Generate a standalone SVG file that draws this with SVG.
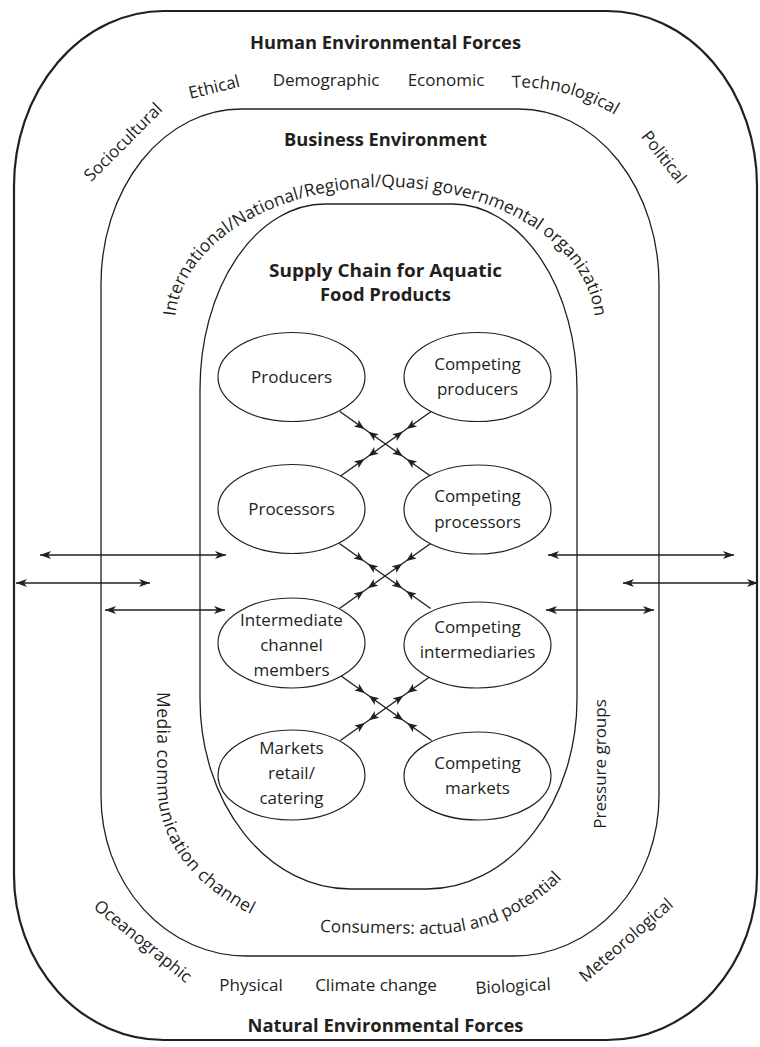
<svg xmlns="http://www.w3.org/2000/svg" width="760" height="1047" viewBox="0 0 760 1047">
<style>
.t{font-family:"Open Sans","Liberation Sans",sans-serif;font-size:17px;fill:#231f20}
.b{font-weight:700;font-size:18px}
.arc{font-size:17.5px}
.frame{fill:none;stroke:#231f20}
.node ellipse{fill:#fff;stroke:#231f20;stroke-width:1.2}
.conn line{fill:none;stroke:#231f20;stroke-width:1.4}
.conn use{fill:#231f20}
</style>
<defs>
<marker id="ah2" viewBox="0 0 11 8" refX="11" refY="4" markerWidth="11" markerHeight="8" markerUnits="userSpaceOnUse" orient="auto-start-reverse"><path d="M0,0 L11,4 L0,8 L3,4 Z" fill="#231f20"/></marker>
<path id="tip" d="M0,0 L-10,-4 L-7.5,0 L-10,4 Z"/>
<path id="p-intl" d="M175,325 A210,138 0 0 1 595,325"/>
<path id="p-tech" d="M512,88 Q570,84 626,122"/>
<path id="p-media" d="M157,688 V780 C157,860 215,905 300,935"/>
<path id="p-cons" d="M318,932 L430,934 A185,185 0 0 0 590,841.5"/>
</defs>
<rect width="760" height="1047" fill="#fff"/>

<g id="frames">
<path id="outer" class="frame" stroke-width="2.2" d="M164,11 H607 A150,175 0 0 1 757,186 V875 A150,165 0 0 1 607,1040 H164 A150,165 0 0 1 14,875 V186 A150,175 0 0 1 164,11 Z"/>
<path id="business" class="frame" stroke-width="1.3" d="M241,109 H519 A140,175 0 0 1 659,284 V796 A145,160 0 0 1 514,956 H246 A145,160 0 0 1 101,796 V284 A140,175 0 0 1 241,109 Z"/>
<path id="supply" class="frame" stroke-width="1.3" d="M325,204 H452 A125,185 0 0 1 577,389 V699 A150,190 0 0 1 427,889 H350 A150,190 0 0 1 200,699 V389 A125,185 0 0 1 325,204 Z"/>
</g>

<g id="labels">
<text class="t b" x="385.5" y="49" text-anchor="middle" textLength="271" lengthAdjust="spacingAndGlyphs">Human Environmental Forces</text>
<text class="t" transform="translate(123,142) rotate(-45)" text-anchor="middle" dy="0.35em">Sociocultural</text>
<text class="t" transform="translate(214,87) rotate(-14)" text-anchor="middle" dy="0.35em">Ethical</text>
<text class="t" x="326" y="86" text-anchor="middle">Demographic</text>
<text class="t" x="446" y="86" text-anchor="middle">Economic</text>
<text class="t"><textPath href="#p-tech">Technological</textPath></text>
<text class="t" transform="translate(664,157) rotate(52)" text-anchor="middle" dy="0.35em">Political</text>
<text class="t b" x="385.5" y="146" text-anchor="middle" textLength="203" lengthAdjust="spacingAndGlyphs">Business Environment</text>
<text class="t arc"><textPath href="#p-intl" startOffset="8.5" textLength="112" lengthAdjust="spacing">International/</textPath></text>
<text class="t arc"><textPath href="#p-intl" startOffset="120.5" textLength="317" lengthAdjust="spacing">National/Regional/Quasi governmental</textPath></text>
<text class="t arc"><textPath href="#p-intl" startOffset="442" textLength="102" lengthAdjust="spacing">organization</textPath></text>
<text class="t b" x="385.5" y="277" text-anchor="middle" textLength="233" lengthAdjust="spacingAndGlyphs">Supply Chain for Aquatic</text>
<text class="t b" x="385.5" y="301" text-anchor="middle" textLength="131" lengthAdjust="spacingAndGlyphs">Food Products</text>
<text class="t" style="font-size:17.5px;letter-spacing:0.4px"><textPath href="#p-media" startOffset="4">Media communication channel</textPath></text>
<text class="t" transform="translate(600,764) rotate(-90)" text-anchor="middle" dy="0.35em">Pressure groups</text>
<text class="t"><textPath href="#p-cons" startOffset="2">Consumers: actual and potential</textPath></text>
<text class="t" transform="translate(143,941) rotate(39)" text-anchor="middle" dy="0.35em">Oceanographic</text>
<text class="t" x="251" y="991" text-anchor="middle">Physical</text>
<text class="t" x="376" y="991" text-anchor="middle">Climate change</text>
<text class="t" transform="translate(513,986) rotate(-3)" text-anchor="middle" dy="0.35em">Biological</text>
<text class="t" transform="translate(626,940) rotate(-41)" text-anchor="middle" dy="0.35em">Meteorological</text>
<text class="t b" x="385.5" y="1032" text-anchor="middle" textLength="276" lengthAdjust="spacingAndGlyphs">Natural Environmental Forces</text>
</g>

<g id="connectors" class="conn">
<g id="x1" transform="translate(385.5,444)">
<line x1="-45.6" y1="-32.5" x2="45.6" y2="32.5"/>
<line x1="45.6" y1="-32.5" x2="-45.6" y2="32.5"/>
<use href="#tip" transform="translate(-21.19,-15.08) rotate(35.43)"/>
<use href="#tip" transform="translate(-17.12,-12.18) rotate(215.43)"/>
<use href="#tip" transform="translate(17.12,12.18) rotate(35.43)"/>
<use href="#tip" transform="translate(21.19,15.08) rotate(215.43)"/>
<use href="#tip" transform="translate(21.19,-15.08) rotate(144.57)"/>
<use href="#tip" transform="translate(17.12,-12.18) rotate(-35.43)"/>
<use href="#tip" transform="translate(-17.12,12.18) rotate(144.57)"/>
<use href="#tip" transform="translate(-21.19,15.08) rotate(-35.43)"/>
</g>
<g id="x2" transform="translate(385,576)">
<line x1="-45.6" y1="-32.5" x2="45.6" y2="32.5"/>
<line x1="45.6" y1="-32.5" x2="-45.6" y2="32.5"/>
<use href="#tip" transform="translate(-21.19,-15.08) rotate(35.43)"/>
<use href="#tip" transform="translate(-17.12,-12.18) rotate(215.43)"/>
<use href="#tip" transform="translate(17.12,12.18) rotate(35.43)"/>
<use href="#tip" transform="translate(21.19,15.08) rotate(215.43)"/>
<use href="#tip" transform="translate(21.19,-15.08) rotate(144.57)"/>
<use href="#tip" transform="translate(17.12,-12.18) rotate(-35.43)"/>
<use href="#tip" transform="translate(-17.12,12.18) rotate(144.57)"/>
<use href="#tip" transform="translate(-21.19,15.08) rotate(-35.43)"/>
</g>
<g id="x3" transform="translate(386,708)">
<line x1="-45.6" y1="-32.5" x2="45.6" y2="32.5"/>
<line x1="45.6" y1="-32.5" x2="-45.6" y2="32.5"/>
<use href="#tip" transform="translate(-21.19,-15.08) rotate(35.43)"/>
<use href="#tip" transform="translate(-17.12,-12.18) rotate(215.43)"/>
<use href="#tip" transform="translate(17.12,12.18) rotate(35.43)"/>
<use href="#tip" transform="translate(21.19,15.08) rotate(215.43)"/>
<use href="#tip" transform="translate(21.19,-15.08) rotate(144.57)"/>
<use href="#tip" transform="translate(17.12,-12.18) rotate(-35.43)"/>
<use href="#tip" transform="translate(-17.12,12.18) rotate(144.57)"/>
<use href="#tip" transform="translate(-21.19,15.08) rotate(-35.43)"/>
</g>
<line x1="40" y1="555" x2="226" y2="555" marker-start="url(#ah2)" marker-end="url(#ah2)"/>
<line x1="16" y1="583" x2="150" y2="583" marker-start="url(#ah2)" marker-end="url(#ah2)"/>
<line x1="105" y1="610" x2="225" y2="610" marker-start="url(#ah2)" marker-end="url(#ah2)"/>
<line x1="548" y1="555" x2="734" y2="555" marker-start="url(#ah2)" marker-end="url(#ah2)"/>
<line x1="623" y1="583" x2="758" y2="583" marker-start="url(#ah2)" marker-end="url(#ah2)"/>
<line x1="546" y1="610" x2="654" y2="610" marker-start="url(#ah2)" marker-end="url(#ah2)"/>
</g>

<g id="n-producers" class="node"><ellipse cx="291.5" cy="377" rx="73.5" ry="44.5"/><text class="t" x="291.5" y="383" text-anchor="middle">Producers</text></g>
<g id="n-comp-producers" class="node"><ellipse cx="477.5" cy="377" rx="73.5" ry="44.5"/><text class="t" x="477.5" y="370" text-anchor="middle">Competing</text><text class="t" x="477.5" y="395" text-anchor="middle">producers</text></g>
<g id="n-processors" class="node"><ellipse cx="291.5" cy="509" rx="73.5" ry="44.5"/><text class="t" x="291.5" y="515" text-anchor="middle">Processors</text></g>
<g id="n-comp-processors" class="node"><ellipse cx="477.5" cy="509.5" rx="73.5" ry="44.5"/><text class="t" x="477.5" y="502" text-anchor="middle">Competing</text><text class="t" x="477.5" y="528" text-anchor="middle">processors</text></g>
<g id="n-intermediate" class="node"><ellipse cx="291.5" cy="643" rx="73.5" ry="45"/><text class="t" x="291.5" y="626" text-anchor="middle">Intermediate</text><text class="t" x="291.5" y="651" text-anchor="middle">channel</text><text class="t" x="291.5" y="676" text-anchor="middle">members</text></g>
<g id="n-comp-intermediaries" class="node"><ellipse cx="477.5" cy="645" rx="73.5" ry="43"/><text class="t" x="477.5" y="633" text-anchor="middle">Competing</text><text class="t" x="477.5" y="658" text-anchor="middle">intermediaries</text></g>
<g id="n-markets" class="node"><ellipse cx="291.5" cy="775" rx="73.5" ry="45"/><text class="t" x="291.5" y="754" text-anchor="middle">Markets</text><text class="t" x="291.5" y="779" text-anchor="middle">retail/</text><text class="t" x="291.5" y="804" text-anchor="middle">catering</text></g>
<g id="n-comp-markets" class="node"><ellipse cx="477.5" cy="776" rx="73.5" ry="44"/><text class="t" x="477.5" y="769" text-anchor="middle">Competing</text><text class="t" x="477.5" y="794" text-anchor="middle">markets</text></g>
</svg>
